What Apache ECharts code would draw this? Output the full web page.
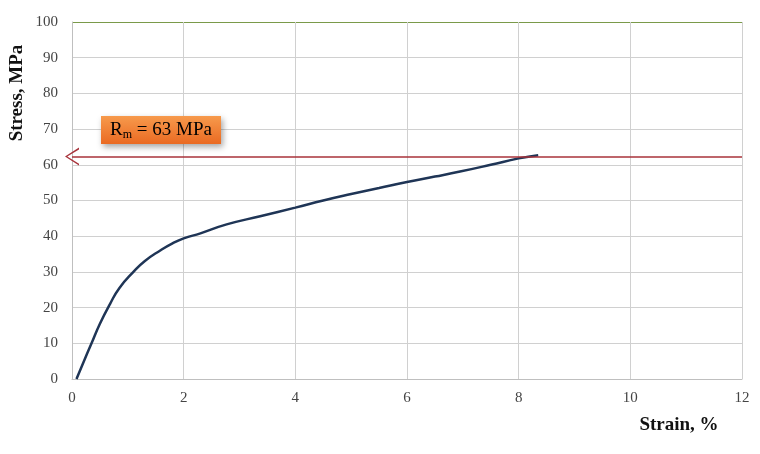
<!DOCTYPE html>
<html>
<head>
<meta charset="utf-8">
<script src="https://cdn.jsdelivr.net/npm/echarts@6/dist/echarts.min.js"></script>
<style>
  html, body { margin: 0; padding: 0; background: #fff; }
  #chart { width: 760px; height: 454px; }
</style>
</head>
<body>
<div id="chart"></div>
<script>
// strain (%)
var strain = [0.08, 0.2, 0.35, 0.5, 0.68, 0.85, 1.1, 1.3, 1.58, 1.8, 2.0, 2.3, 2.77, 3.37,
  4.0, 4.5, 5.0, 5.5, 6.0, 6.5, 6.95, 7.5, 8.0, 8.35];
// stress (MPa)
var stress = [0, 4.5, 10, 15.5, 21, 25.5, 30, 33, 36, 38, 39.4, 40.8, 43.3, 45.6,
  48, 50, 51.8, 53.5, 55.2, 56.7, 58.1, 60, 61.8, 62.7];
// ultimate strength line
var rmLevel = 62.3;
var rmText = '63 MPa';

var points = strain.map(function (s, i) { return [s, stress[i]]; });

var gridColors = [];
for (var i = 0; i < 10; i++) gridColors.push('#d0d0d0');
gridColors.push('#7a9a4a');

var serif = '"Liberation Serif", "DejaVu Serif", serif';

var option = {
  backgroundColor: '#fff',
  animation: false,
  grid: { left: 72, right: 18, top: 22, bottom: 75 },
  xAxis: {
    type: 'value',
    min: 0, max: 12, interval: 2,
    axisLine: { lineStyle: { color: '#bfbfbf' } },
    axisTick: { show: false },
    axisLabel: { color: '#444', fontFamily: serif, fontSize: 15, margin: 12 },
    splitLine: { lineStyle: { color: '#d0d0d0' } }
  },
  yAxis: {
    type: 'value',
    min: 0, max: 100, interval: 10,
    axisLine: { show: true, lineStyle: { color: '#bfbfbf' } },
    axisTick: { show: false },
    axisLabel: { color: '#444', fontFamily: serif, fontSize: 15, margin: 14 },
    splitLine: { lineStyle: { color: gridColors } }
  },
  graphic: [
    {
      type: 'text',
      x: 17, y: 93,
      rotation: Math.PI / 2,
      style: {
        text: 'Stress, MPa', fill: '#111', font: 'bold 19px ' + serif,
        align: 'center', verticalAlign: 'middle'
      }
    },
    {
      type: 'text',
      x: 679, y: 425,
      style: {
        text: 'Strain, %', fill: '#111', font: 'bold 19px ' + serif,
        align: 'center', verticalAlign: 'middle'
      }
    },
    {
      type: 'group',
      z: 100,
      children: [
        {
          type: 'rect',
          z: 100,
          shape: { x: 101, y: 116, width: 120, height: 28 },
          style: {
            fill: new echarts.graphic.LinearGradient(0, 0, 0, 1, [
              { offset: 0, color: '#f79a4c' },
              { offset: 1, color: '#ea6a22' }
            ]),
            shadowBlur: 6, shadowOffsetX: 2, shadowOffsetY: 3,
            shadowColor: 'rgba(0,0,0,0.35)'
          }
        },
        {
          type: 'text',
          z: 101,
          x: 161, y: 130,
          style: {
            text: '{r|R}{s|m}{r| = ' + rmText + '}',
            align: 'center', verticalAlign: 'middle',
            rich: {
              r: { fontFamily: serif, fontSize: 19, color: '#111', lineHeight: 22 },
              s: { fontFamily: serif, fontSize: 12, color: '#111', lineHeight: 22, verticalAlign: 'bottom', padding: [6, 0, 0, 0] }
            }
          }
        }
      ]
    }
  ],
  series: [
    {
      type: 'line',
      data: points,
      showSymbol: false,
      smooth: true,
      lineStyle: { color: '#1f3556', width: 2.5 },
      z: 3,
      markLine: {
        silent: true,
        symbol: ['path://M0,10 L5,0 L10,10 L9,10 L5,1.6 L1,10 Z', 'none'],
        symbolSize: [18, 14],
        label: { show: false },
        lineStyle: { color: '#a8323a', width: 1.5, type: 'solid' },
        data: [[{ coord: [0, rmLevel] }, { coord: [12, rmLevel] }]]
      }
    }
  ]
};

var chart = echarts.init(document.getElementById('chart'));
chart.setOption(option);
</script>
</body>
</html>
